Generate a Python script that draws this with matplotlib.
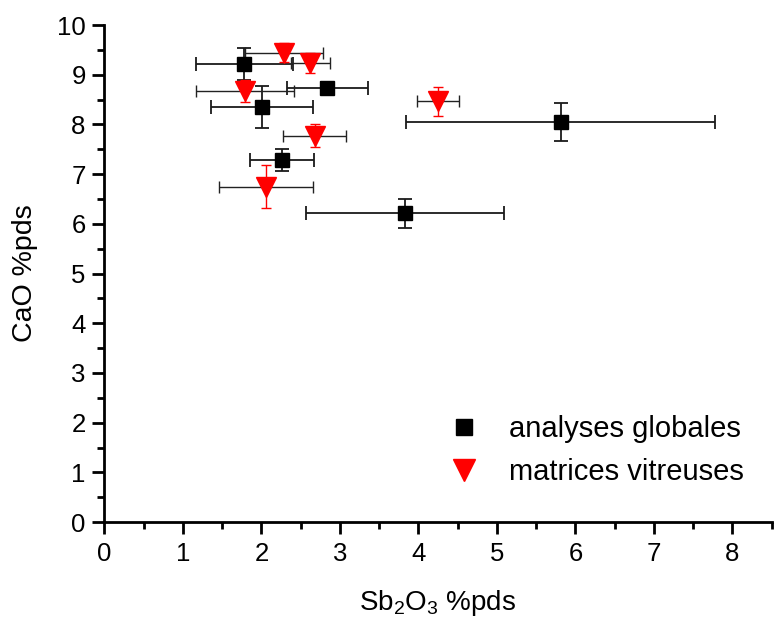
import numpy as np
import matplotlib
matplotlib.use('Agg')
import matplotlib.pyplot as plt
from matplotlib.ticker import MultipleLocator

plt.rcParams['font.family'] = ['Liberation Sans', 'DejaVu Sans']
plt.rcParams['mathtext.fontset'] = 'custom'
plt.rcParams['mathtext.rm'] = 'Liberation Sans'
plt.rcParams['mathtext.it'] = 'Liberation Sans'

# analyses globales (carres noirs)
glob_x = [1.78, 2.84, 2.01, 2.26, 5.81, 3.83]
glob_y = [9.21, 8.74, 8.35, 7.29, 8.05, 6.21]
glob_xerr = [0.62, 0.52, 0.65, 0.41, 1.97, 1.26]
glob_yerr = [0.32, 0.12, 0.43, 0.22, 0.38, 0.30]

# matrices vitreuses (triangles rouges)
mat_x = [2.29, 2.62, 1.79, 2.68, 2.06, 4.25]
mat_y = [9.44, 9.23, 8.68, 7.77, 6.75, 8.47]
mat_xerr = [0.50, 0.25, 0.63, 0.40, 0.60, 0.27]
mat_yerr = [0.19, 0.20, 0.22, 0.23, 0.44, 0.29]

fig = plt.figure(figsize=(7.74, 6.26), dpi=100)
ax = fig.add_axes([0.135, 0.166, 0.862, 0.794])

# barres d'erreur
ax.errorbar(glob_x, glob_y, xerr=glob_xerr, yerr=glob_yerr, fmt='none',
            ecolor='#1a1a1a', elinewidth=1.3, capsize=5, capthick=1.3, zorder=2)
ax.errorbar(mat_x, mat_y, xerr=mat_xerr, fmt='none',
            ecolor='#222222', elinewidth=1.0, capsize=4.5, capthick=1.0, zorder=2)
ax.errorbar(mat_x, mat_y, yerr=mat_yerr, fmt='none',
            ecolor='red', elinewidth=1.0, capsize=3.6, capthick=1.0, zorder=2)

# points
ax.plot(glob_x, glob_y, 's', color='black', markersize=10.5, ls='none',
        label='analyses globales', zorder=3)
ax.plot(mat_x, mat_y, 'v', color='red', markersize=14, ls='none',
        label='matrices vitreuses', zorder=4)

ax.set_xlim(0, 8.5)
ax.set_ylim(0, 10)
ax.xaxis.set_major_locator(MultipleLocator(1))
ax.xaxis.set_minor_locator(MultipleLocator(0.5))
ax.yaxis.set_major_locator(MultipleLocator(1))
ax.yaxis.set_minor_locator(MultipleLocator(0.5))

for s in ['top', 'right']:
    ax.spines[s].set_visible(False)
for s in ['left', 'bottom']:
    ax.spines[s].set_linewidth(2)

ax.tick_params(which='major', direction='out', length=8.5, width=2,
               labelsize=18.5, pad=5)
ax.tick_params(which='minor', direction='out', length=5, width=2)
ax.tick_params(axis='x', which='major', pad=6)

ax.set_xlabel('Sb$_2$O$_3$ %pds', fontsize=20, labelpad=16)
ax.set_ylabel('CaO %pds', fontsize=20.5, labelpad=14)

ax.legend(loc='upper left', bbox_to_anchor=(0.506, 0.215), frameon=False,
          fontsize=21, borderpad=0, borderaxespad=0, handletextpad=0.8,
          labelspacing=0.5, markerscale=1.1, handlelength=1.5)

fig.savefig('out.png', dpi=100)
